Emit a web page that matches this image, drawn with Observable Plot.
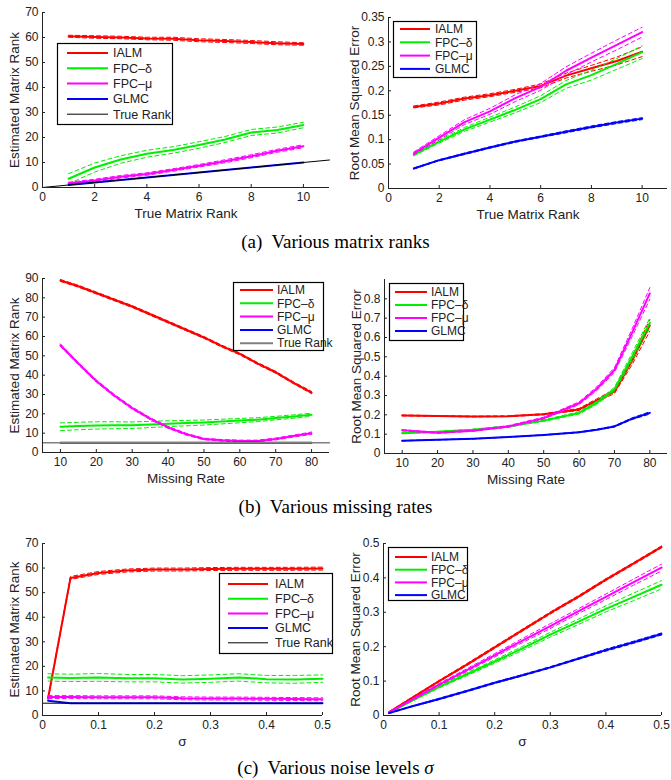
<!DOCTYPE html>
<html><head><meta charset="utf-8">
<script src="https://cdn.jsdelivr.net/npm/d3@7"></script>
<script src="https://cdn.jsdelivr.net/npm/@observablehq/plot@0.6"></script>
<style>
body{margin:0;background:#fff;}
#fig{position:relative;width:671px;height:780px;overflow:hidden;background:#fff;font-family:"Liberation Sans",Arial,sans-serif;}
.panel{position:absolute;}
.cap{position:absolute;left:0;width:671px;text-align:center;font-family:"Liberation Serif","Times New Roman",serif;font-size:19px;line-height:22px;color:#000;white-space:pre;}
.leg{position:absolute;overflow:visible;}
</style></head><body><div id="fig"></div>
<script>
// ---------- data ----------
const names = ["IALM", "FPC–δ", "FPC–μ", "GLMC", "True Rank"];
const colors = ["#ff0000", "#00ee00", "#ff00ff", "#0000ff"];

// (a) various matrix ranks
const aX = [1, 2, 3, 4, 5, 6, 7, 8, 9, 10];
const aRankIALM = [60.5, 60.2, 60.0, 59.6, 59.5, 58.9, 58.6, 58.2, 57.7, 57.4];
const aRankFPCd = [3.5, 8.0, 11.2, 13.5, 15.0, 17.0, 19.2, 22.0, 23.0, 25.0];
const aRankFPCm = [1.7, 2.8, 4.3, 5.4, 7.0, 8.7, 10.5, 12.5, 14.7, 16.5];
const aRankGLMC = [1, 2, 3, 4, 5, 6, 7, 8, 9, 10];
const aRankSdIALM = [0.4, 0.5, 0.5, 0.5, 0.6, 0.6, 0.6, 0.6, 0.6, 0.5];
const aRankSdFPCd = [2.0, 1.8, 1.5, 1.4, 1.3, 1.3, 1.2, 1.2, 1.2, 1.1];
const aRankSdFPCm = [0.4, 0.5, 0.5, 0.5, 0.5, 0.5, 0.6, 0.6, 0.6, 0.6];
const aTrueX = [0, 11];
const aTrueY = [0, 11];
const aErrIALM = [0.167, 0.174, 0.184, 0.191, 0.200, 0.210, 0.231, 0.246, 0.261, 0.280];
const aErrFPCd = [0.069, 0.096, 0.121, 0.141, 0.161, 0.183, 0.213, 0.232, 0.255, 0.279];
const aErrFPCm = [0.072, 0.104, 0.136, 0.158, 0.185, 0.208, 0.241, 0.268, 0.294, 0.320];
const aErrGLMC = [0.041, 0.058, 0.071, 0.084, 0.096, 0.106, 0.116, 0.126, 0.135, 0.143];
const aErrSdIALM = [0.002, 0.003, 0.003, 0.003, 0.003, 0.004, 0.005, 0.006, 0.008, 0.010];
const aErrSdFPCd = [0.002, 0.003, 0.004, 0.005, 0.006, 0.007, 0.008, 0.010, 0.011, 0.013];
const aErrSdFPCm = [0.003, 0.004, 0.005, 0.006, 0.007, 0.007, 0.008, 0.009, 0.010, 0.010];
const aErrSdGLMC = [0.001, 0.001, 0.0015, 0.0015, 0.0015, 0.0015, 0.002, 0.002, 0.002, 0.002];

// (b) various missing rates
const bX = [10, 15, 20, 25, 30, 35, 40, 45, 50, 55, 60, 65, 70, 75, 80];
const bRankIALM = [89, 86, 82.5, 79, 75.5, 71.5, 67.5, 63.5, 59.5, 55, 51, 46, 41.5, 36, 31];
const bRankFPCd = [13.3, 13.7, 14, 14.1, 14.1, 14.5, 14.9, 15.2, 15.5, 16, 16.5, 17, 17.8, 18.6, 19.5];
const bRankFPCm = [55.5, 46, 37, 29.5, 23, 17.5, 13, 9.5, 7, 6.3, 6, 6, 7, 8.5, 10];
const bRankGLMC = [5, 5, 5, 5, 5, 5, 5, 5, 5, 5, 5, 5, 5, 5, 5];
const bRankSdIALM = [0.5, 0.5, 0.5, 0.5, 0.5, 0.5, 0.5, 0.5, 0.5, 0.5, 0.5, 0.5, 0.5, 0.5, 0.6];
const bRankSdFPCd = [2, 1.9, 1.9, 1.8, 1.7, 1.6, 1.5, 1.4, 1.3, 1.2, 1.1, 1.0, 0.9, 0.9, 0.8];
const bRankSdFPCm = [0.7, 0.6, 0.6, 0.6, 0.6, 0.5, 0.5, 0.5, 0.4, 0.4, 0.4, 0.4, 0.5, 0.5, 0.6];
const bTrueX = [5, 85];
const bTrueY = [5, 5];
const bErrX = [10, 20, 30, 40, 50, 60, 65, 70, 75, 80];
const bErrIALM = [0.197, 0.194, 0.191, 0.193, 0.203, 0.228, 0.275, 0.32, 0.48, 0.663];
const bErrFPCd = [0.105, 0.112, 0.123, 0.14, 0.17, 0.21, 0.262, 0.332, 0.5, 0.675];
const bErrFPCm = [0.12, 0.107, 0.118, 0.14, 0.183, 0.26, 0.335, 0.432, 0.625, 0.828];
const bErrGLMC = [0.066, 0.071, 0.076, 0.085, 0.096, 0.11, 0.123, 0.14, 0.18, 0.21];
const bErrSdIALM = [0.002, 0.002, 0.002, 0.002, 0.003, 0.005, 0.008, 0.01, 0.02, 0.03];
const bErrSdFPCd = [0.002, 0.002, 0.003, 0.003, 0.004, 0.006, 0.008, 0.01, 0.02, 0.025];
const bErrSdFPCm = [0.003, 0.003, 0.003, 0.004, 0.005, 0.007, 0.01, 0.012, 0.02, 0.03];
const bErrSdGLMC = [0.001, 0.001, 0.001, 0.001, 0.001, 0.002, 0.002, 0.003, 0.004, 0.006];

// (c) various noise levels
const cX = [0.01, 0.05, 0.1, 0.15, 0.2, 0.25, 0.3, 0.35, 0.4, 0.45, 0.5];
const cRankIALM = [7, 56, 58, 59, 59.4, 59.4, 59.6, 59.7, 59.7, 59.7, 59.8];
const cRankFPCd = [15.5, 15.3, 15.5, 15.2, 15.2, 14.7, 15, 15.5, 14.8, 14.7, 15];
const cRankFPCm = [7.5, 7.5, 7.4, 7.4, 7.4, 7.0, 6.9, 6.9, 6.8, 6.7, 6.6];
const cRankGLMC = [6, 5, 5, 5, 5, 5, 5, 5, 5, 5, 5];
const cRankSdIALM = [0.5, 0.6, 0.6, 0.6, 0.6, 0.6, 0.6, 0.6, 0.6, 0.6, 0.6];
const cRankSdFPCd = [1.5, 1.5, 1.6, 1.5, 1.5, 1.5, 1.5, 1.5, 1.5, 1.6, 1.5];
const cRankSdFPCm = [0.6, 0.6, 0.6, 0.6, 0.6, 0.6, 0.6, 0.6, 0.6, 0.6, 0.6];
const cTrueX = [0, 0.5];
const cTrueY = [5, 5];
const cErrIALM = [0.01, 0.05, 0.1, 0.148, 0.198, 0.248, 0.298, 0.345, 0.395, 0.442, 0.49];
const cErrFPCd = [0.008, 0.042, 0.083, 0.12, 0.157, 0.195, 0.235, 0.272, 0.31, 0.345, 0.38];
const cErrFPCm = [0.009, 0.045, 0.09, 0.132, 0.175, 0.218, 0.26, 0.303, 0.345, 0.388, 0.43];
const cErrGLMC = [0.007, 0.026, 0.048, 0.071, 0.095, 0.117, 0.14, 0.165, 0.19, 0.213, 0.237];
const cErrSdIALM = [0.001, 0.002, 0.002, 0.003, 0.003, 0.003, 0.003, 0.003, 0.003, 0.003, 0.003];
const cErrSdFPCd = [0.001, 0.002, 0.003, 0.004, 0.005, 0.006, 0.007, 0.008, 0.009, 0.011, 0.012];
const cErrSdFPCm = [0.001, 0.002, 0.003, 0.004, 0.005, 0.006, 0.007, 0.007, 0.008, 0.009, 0.01];
const cErrSdGLMC = [0.001, 0.001, 0.002, 0.002, 0.002, 0.002, 0.002, 0.002, 0.003, 0.003, 0.003];

// ---------- helpers ----------
const fig = document.getElementById("fig");
const fmt = d => String(+d.toFixed(3));
const FONT = "'Liberation Sans', Arial, sans-serif";

function rows(xs, ys, sds) {
  return xs.map((x, i) => ({x, y: ys[i], lo: ys[i] - (sds ? sds[i] : 0), hi: ys[i] + (sds ? sds[i] : 0)}));
}

function seriesMarks(xs, ys, sds, color) {
  const r = rows(xs, ys, sds);
  const m = [];
  if (sds) {
    m.push(Plot.line(r, {x: "x", y: "hi", stroke: color, strokeWidth: 1, strokeDasharray: "4,3"}));
    m.push(Plot.line(r, {x: "x", y: "lo", stroke: color, strokeWidth: 1, strokeDasharray: "4,3"}));
  }
  m.push(Plot.line(r, {x: "x", y: "y", stroke: color, strokeWidth: 2}));
  return m;
}

function panel(o) {
  const marks = [];
  o.series.forEach(s => marks.push(...seriesMarks(s.x, s.y, s.sd, s.color)));
  if (o.truth) marks.push(Plot.line(rows(o.truth.x, o.truth.y), {x: "x", y: "y", stroke: o.truth.color, strokeWidth: o.truth.w}));
  marks.push(Plot.ruleX([o.xDomain[0]], {stroke: "#222"}));
  marks.push(Plot.ruleY([o.yDomain[0]], {stroke: "#222"}));
  // tick marks + tick labels
  marks.push(Plot.axisX({ticks: o.xTicks, tickFormat: fmt, tickSize: -3, tickPadding: 8, stroke: "#222", fill: "#222",
    fontSize: 12, label: null}));
  marks.push(Plot.axisY({ticks: o.yTicks, tickFormat: fmt, tickSize: -3, tickPadding: 7, stroke: "#222", fill: "#222",
    fontSize: 12, label: null}));
  // axis titles
  marks.push(Plot.axisX({ticks: [], tickSize: 0, fill: "#222", fontSize: 13.5,
    label: o.xLabel, labelAnchor: "center", labelOffset: o.xLabelOffset, labelArrow: "none"}));
  marks.push(Plot.axisY({ticks: [], tickSize: 0, fill: "#222", fontSize: 13.5,
    label: o.yLabel, labelAnchor: "center", labelOffset: o.yLabelOffset, labelArrow: "none"}));
  const p = Plot.plot({
    width: o.w, height: o.h,
    marginLeft: o.ml, marginRight: o.mr, marginTop: o.mt, marginBottom: o.mb,
    x: {domain: o.xDomain},
    y: {domain: o.yDomain},
    style: {fontFamily: FONT, fontSize: "12px", background: "transparent", overflow: "visible"},
    marks
  });
  p.classList.add("panel");
  p.style.left = o.left + "px";
  p.style.top = o.top + "px";
  fig.appendChild(p);
}

function legend(o) {
  const svg = d3.select(fig).append("svg").attr("class", "leg")
    .attr("width", o.w + 12).attr("height", o.h + 2)
    .style("left", o.x + "px").style("top", o.y + "px");
  svg.append("rect").attr("x", 0.5).attr("y", 0.5).attr("width", o.w).attr("height", o.h)
    .attr("fill", "white").attr("stroke", "#000").attr("stroke-width", 1.2);
  o.items.forEach((it, i) => {
    const yy = o.y0 + i * o.dy;
    svg.append("line").attr("x1", o.lx1).attr("x2", o.lx2).attr("y1", yy).attr("y2", yy)
      .attr("stroke", it.color).attr("stroke-width", it.w);
    svg.append("text").attr("x", o.tx).attr("y", yy).attr("dy", "0.35em")
      .attr("font-family", FONT).attr("font-size", o.fs)
      .attr("fill", "#222").text(it.name);
  });
}

function caption(text, top, sigma) {
  const d = document.createElement("div");
  d.className = "cap";
  d.style.top = top + "px";
  d.textContent = text;
  if (sigma) { const s = document.createElement("i"); s.textContent = " σ"; d.appendChild(s); }
  fig.appendChild(d);
}

const rankItems = (trueColor, trueW) => [
  {name: names[0], color: colors[0], w: 2}, {name: names[1], color: colors[1], w: 2},
  {name: names[2], color: colors[2], w: 2}, {name: names[3], color: colors[3], w: 2},
  {name: names[4], color: trueColor, w: trueW}];
const errItems = () => [0, 1, 2, 3].map(i => ({name: names[i], color: colors[i], w: 2}));

// ---------- (a) ----------
panel({left: 0, top: 0, w: 335, h: 225, ml: 42, mr: 6, mt: 12, mb: 38,
  xDomain: [0, 11], yDomain: [0, 70], xTicks: [0, 2, 4, 6, 8, 10], yTicks: d3.range(0, 71, 10),
  xLabel: "True Matrix Rank", yLabel: "Estimated Matrix Rank", xLabelOffset: 30, yLabelOffset: 33,
  series: [
    {x: aX, y: aRankIALM, sd: aRankSdIALM, color: colors[0]},
    {x: aX, y: aRankFPCd, sd: aRankSdFPCd, color: colors[1]},
    {x: aX, y: aRankFPCm, sd: aRankSdFPCm, color: colors[2]},
    {x: aX, y: aRankGLMC, sd: null, color: colors[3]}],
  truth: {x: aTrueX, y: aTrueY, color: "#000", w: 1}});
panel({left: 335, top: 0, w: 336, h: 225, ml: 53, mr: 4, mt: 17, mb: 37,
  xDomain: [0, 11], yDomain: [0, 0.35], xTicks: [0, 2, 4, 6, 8, 10], yTicks: d3.range(0, 0.351, 0.05),
  xLabel: "True Matrix Rank", yLabel: "Root Mean Squared Error", xLabelOffset: 30, yLabelOffset: 39,
  series: [
    {x: aX, y: aErrIALM, sd: aErrSdIALM, color: colors[0]},
    {x: aX, y: aErrFPCd, sd: aErrSdFPCd, color: colors[1]},
    {x: aX, y: aErrFPCm, sd: aErrSdFPCm, color: colors[2]},
    {x: aX, y: aErrGLMC, sd: aErrSdGLMC, color: colors[3]}]});
legend({x: 57, y: 43, w: 115, h: 81, y0: 10, dy: 15.3, lx1: 10, lx2: 51, tx: 56, fs: "12.5px", items: rankItems("#000", 1)});
legend({x: 393, y: 21, w: 83, h: 56, y0: 8, dy: 13.3, lx1: 7, lx2: 37, tx: 42, fs: "12px", items: errItems()});
caption("(a)  Various matrix ranks", 231);

// ---------- (b) ----------
panel({left: 0, top: 255, w: 335, h: 235, ml: 42, mr: 6, mt: 23, mb: 38,
  xDomain: [5, 85], yDomain: [0, 90], xTicks: d3.range(10, 81, 10), yTicks: d3.range(0, 91, 10),
  xLabel: "Missing Rate", yLabel: "Estimated Matrix Rank", xLabelOffset: 30, yLabelOffset: 33,
  series: [
    {x: bX, y: bRankIALM, sd: bRankSdIALM, color: colors[0]},
    {x: bX, y: bRankFPCd, sd: bRankSdFPCd, color: colors[1]},
    {x: bX, y: bRankFPCm, sd: bRankSdFPCm, color: colors[2]},
    {x: bX, y: bRankGLMC, sd: null, color: "#0000a0"}],
  truth: {x: bTrueX, y: bTrueY, color: "#808080", w: 1.5}});
panel({left: 335, top: 255, w: 336, h: 235, ml: 49, mr: 4, mt: 24, mb: 37,
  xDomain: [5, 85], yDomain: [0, 0.9], xTicks: d3.range(10, 81, 10), yTicks: d3.range(0, 0.81, 0.1),
  xLabel: "Missing Rate", yLabel: "Root Mean Squared Error", xLabelOffset: 30, yLabelOffset: 33,
  series: [
    {x: bErrX, y: bErrIALM, sd: bErrSdIALM, color: colors[0]},
    {x: bErrX, y: bErrFPCd, sd: bErrSdFPCd, color: colors[1]},
    {x: bErrX, y: bErrFPCm, sd: bErrSdFPCm, color: colors[2]},
    {x: bErrX, y: bErrGLMC, sd: bErrSdGLMC, color: colors[3]}]});
legend({x: 233, y: 282, w: 90, h: 68, y0: 8, dy: 13.3, lx1: 7, lx2: 40, tx: 44, fs: "12px", items: rankItems("#808080", 2)});
legend({x: 389, y: 283, w: 74, h: 57, y0: 9, dy: 13, lx1: 6, lx2: 38, tx: 42, fs: "12px", items: errItems()});
caption("(b)  Various missing rates", 496);

// ---------- (c) ----------
panel({left: 0, top: 520, w: 335, h: 235, ml: 42, mr: 13, mt: 23, mb: 40,
  xDomain: [0, 0.5], yDomain: [0, 70], xTicks: d3.range(0, 0.51, 0.1), yTicks: d3.range(0, 71, 10),
  xLabel: "σ", yLabel: "Estimated Matrix Rank", xLabelOffset: 30, yLabelOffset: 33,
  series: [
    {x: cX, y: cRankIALM, sd: cRankSdIALM, color: colors[0]},
    {x: cX, y: cRankFPCd, sd: cRankSdFPCd, color: colors[1]},
    {x: cX, y: cRankFPCm, sd: cRankSdFPCm, color: colors[2]},
    {x: cX, y: cRankGLMC, sd: null, color: colors[3]}],
  truth: {x: cTrueX, y: cTrueY, color: "#000", w: 1}});
panel({left: 335, top: 520, w: 336, h: 235, ml: 48, mr: 10, mt: 23, mb: 40,
  xDomain: [0, 0.5], yDomain: [0, 0.5], xTicks: d3.range(0, 0.51, 0.1), yTicks: d3.range(0, 0.51, 0.1),
  xLabel: "σ", yLabel: "Root Mean Squared Error", xLabelOffset: 30, yLabelOffset: 33,
  series: [
    {x: cX, y: cErrIALM, sd: cErrSdIALM, color: colors[0]},
    {x: cX, y: cErrFPCd, sd: cErrSdFPCd, color: colors[1]},
    {x: cX, y: cErrFPCm, sd: cErrSdFPCm, color: colors[2]},
    {x: cX, y: cErrGLMC, sd: cErrSdGLMC, color: colors[3]}]});
legend({x: 219, y: 573, w: 113, h: 80, y0: 11, dy: 14.7, lx1: 9, lx2: 49, tx: 56, fs: "12.5px", items: rankItems("#000", 1)});
legend({x: 388, y: 547, w: 79, h: 53, y0: 10, dy: 12.7, lx1: 7, lx2: 39, tx: 43, fs: "12px", items: errItems()});
caption("(c)  Various noise levels", 757, true);
</script></body></html>
